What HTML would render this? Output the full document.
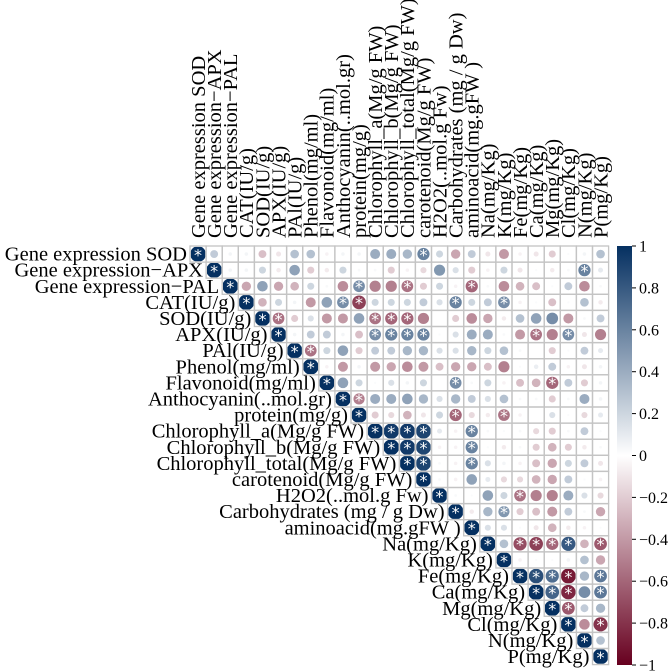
<!DOCTYPE html>
<html><head><meta charset="utf-8"><style>
html,body{margin:0;padding:0;background:#fff;}
svg{display:block;font-family:"Liberation Serif",serif;}
</style></head><body>
<svg id="chart" width="669" height="672" viewBox="0 0 669 672" xmlns="http://www.w3.org/2000/svg">
<defs>
<linearGradient id="cbgrad" x1="0" y1="1" x2="0" y2="0">
<stop offset="0" stop-color="#67001F"/><stop offset="0.5" stop-color="#FFFFFF"/><stop offset="1" stop-color="#053061"/>
</linearGradient>
</defs>
<g id="cells"></g>
<g id="rowlabels"></g>
<g id="collabels"></g>
<g id="colorbar"></g>
</svg>
<script>
const labels = ["Gene expression SOD","Gene expression\u2212APX","Gene expression\u2212PAL","CAT(IU/g)","SOD(IU/g)","APX(IU/g)","PAl(IU/g)","Phenol(mg/ml)","Flavonoid(mg/ml)","Anthocyanin(..mol.gr)","protein(mg/g)","Chlorophyll_a(Mg/g FW)","Chlorophyll_b(Mg/g FW)","Chlorophyll_total(Mg/g FW)","carotenoid(Mg/g FW)","H2O2(..mol.g Fw)","Carbohydrates (mg / g Dw)","aminoacid(mg.gFW )","Na(mg/Kg)","K(mg/Kg)","Fe(mg/Kg)","Ca(mg/Kg)","Mg(mg/Kg)","Cl(mg/Kg)","N(mg/Kg)","P(mg/Kg)"];
// upper-triangle correlations: row i holds columns i+1..25
const corrRows = [
[.25,.05,.05,-.25,-.1,.3,.3,-.05,.05,.05,.4,.4,.35,.6,.2,-.35,.25,-.1,-.4,-.05,-.1,-.2,.02,.05,.3],
[.05,.05,.2,-.08,.45,-.2,-.08,.2,.03,.03,-.2,-.05,-.15,.5,.15,-.2,-.05,.2,-.1,.02,-.08,.03,.6,.1],
[-.35,.45,-.35,-.3,.2,.03,-.45,.55,-.5,-.5,-.55,-.2,.2,-.05,-.6,.03,-.45,-.3,-.25,.02,.25,-.45,.03],
[-.3,.2,.05,-.4,.45,.55,-.75,.2,.2,.2,.25,.15,.6,.2,.25,.55,-.05,.02,-.25,.02,.3,-.08],
[-.55,-.2,.15,-.4,-.4,.45,-.55,-.6,-.6,-.5,0,-.2,-.45,-.35,-.08,.3,.45,.55,-.4,.03,.25],
[.05,.25,.25,.05,-.25,.55,.6,.6,.6,.02,.15,.4,.4,.03,-.4,-.55,-.5,.55,-.1,-.5],
[-.55,.2,.45,-.2,.25,.25,.35,.35,.15,.15,.35,.2,.3,.03,0,-.2,.02,.25,.1],
[-.05,-.4,.05,-.4,-.35,-.45,-.4,-.25,-.35,-.35,-.25,-.5,.02,.08,.25,-.05,-.1,.05],
[.45,.2,.02,.15,.05,.2,0,.55,.03,.2,-.05,-.25,-.3,-.6,.25,-.2,.05],
[-.5,.4,.4,.45,.35,.15,.35,.25,.15,.3,.03,.03,-.2,.03,.4,.05],
[-.2,-.15,-.3,-.1,.2,-.6,-.15,-.08,-.55,-.05,0,.15,.02,-.15,.1],
[.95,.95,.9,.1,-.05,.6,.03,.02,.03,-.15,-.2,.03,.25,.02],
[.95,.9,-.05,-.05,.6,.02,-.08,.03,-.2,-.3,-.2,-.08,.03],
[.9,.03,-.05,.6,.15,.05,-.05,-.25,-.35,.2,.25,-.1],
[.03,-.05,.45,.1,-.15,-.15,-.3,-.35,.25,.02,-.05],
[.03,.02,.45,.2,-.55,-.5,-.5,.4,.15,-.15],
[-.08,.35,.5,-.2,-.25,-.4,.25,.03,-.35],
[.15,.15,.02,-.1,-.3,-.08,-.05,.02],
[.3,-.7,-.75,-.6,.8,-.3,-.65],
[-.05,.02,.02,.05,.3,-.35],
[.85,.7,-.9,.35,.65],
[.75,-.85,.55,.65],
[-.65,.25,.35],
[-.45,-.8],
[.3]
];
const sigPairs = ["0-14","1-24","2-10","2-13","2-17","3-9","3-10","3-16","3-19","4-5","4-11","4-12","4-13","5-11","5-12","5-13","5-14","5-21","5-23","6-7","8-16","8-22","9-10","10-16","10-19","11-12","11-13","11-14","11-17","12-13","12-14","12-17","13-14","13-17","15-20","16-19","18-20","18-21","18-22","18-23","18-25","20-21","20-22","20-23","20-25","21-22","21-23","21-25","22-23","23-25"];
const cbTicks = [1,0.8,0.6,0.4,0.2,0,-0.2,-0.4,-0.6,-0.8,-1];

const NS="http://www.w3.org/2000/svg";
const cell=16.1, gx=190, gy=246;
const n=labels.length;
function xPos(j){return gx+cell*j+cell/2;}
function yPos(i){return gy+cell*i+cell/2;}
function colorFor(r){
  const t=Math.min(1,Math.abs(r));
  const end = r>=0 ? [5,48,97] : [103,0,31];
  const c=end.map(e=>Math.round(255+(e-255)*t));
  return "rgb("+c.join(",")+")";
}
function mk(tag,attrs,parent){const e=document.createElementNS(NS,tag);for(const k in attrs)e.setAttribute(k,attrs[k]);parent.appendChild(e);return e;}

const cellsG=document.getElementById('cells');
const defs=document.querySelector('defs');
const sigSet=new Set(sigPairs);
function value(i,j){return i===j?1:corrRows[i][j-i-1];}
for(let i=0;i<n;i++){
  for(let j=i;j<n;j++){
    const r=value(i,j);
    const cx=xPos(j), cy=yPos(i);
    const g=mk('g',{},cellsG);
    
    
    mk('rect',{x:cx-cell/2,y:cy-cell/2,width:cell,height:cell,fill:'#fff'},g);
    const cid='c'+i+'_'+j;
    const cp=mk('clipPath',{id:cid},defs);
    mk('rect',{x:cx-7.2,y:cy-7.2,width:14.4,height:14.4},cp);
    const rad=7.9*Math.sqrt(Math.abs(r));
    const c=mk('circle',{cx:cx,cy:cy,r:rad,fill:colorFor(r),'clip-path':'url(#'+cid+')'},g);
    
    
    if(i===j||sigSet.has(i+'-'+j)){
      const s=mk('text',{x:cx,y:cy+6.3,'text-anchor':'middle','font-size':'16',fill:'#fff','font-family':'DejaVu Sans, sans-serif'},g);
      s.textContent='*';
      
      
    }
  }
}
// grid lines
const gridG=mk('g',{stroke:'#c4c4c4','stroke-width':'1.3',fill:'none'},cellsG);


for(let i=0;i<n;i++){
  for(let j=i;j<n;j++){
    mk('rect',{x:gx+cell*j,y:gy+cell*i,width:cell,height:cell},gridG);
  }
}
// row labels
const rl=document.getElementById('rowlabels');
labels.forEach((lab,i)=>{
  const t=mk('text',{x:gx+cell*i-3,y:yPos(i)+6.5,'text-anchor':'end','font-size':'20.5',fill:'#000'},rl);
  t.textContent=lab;
  
  
});
// column labels
const cl=document.getElementById('collabels');
labels.forEach((lab,j)=>{
  const x=xPos(j)+6.8, y=238;
  const t=mk('text',{x:x,y:y,transform:'rotate(-90 '+x+' '+y+')','font-size':'20.5',fill:'#000'},cl);
  t.textContent=lab;
  
  
});
// colorbar
const cb=document.getElementById('colorbar');
const cbTop=246, cbBot=665, cbX=617, cbW=15;
function cbY(v){return cbTop+(1-v)/2*(cbBot-cbTop);}
const bar=mk('rect',{x:cbX,y:cbTop,width:cbW,height:cbBot-cbTop,fill:'url(#cbgrad)'},cb);


cbTicks.forEach(v=>{
  const y=cbY(v);
  const tk=mk('line',{x1:cbX+cbW,x2:cbX+cbW+4,y1:y,y2:y,stroke:'#000','stroke-width':'1'},cb);
  
  
  const t=mk('text',{x:cbX+cbW+7,y:y+5.5,'font-size':'16',fill:'#000'},cb);
  t.textContent=(v<0?'\u2212':'')+String(Math.abs(v));
  
  
});
</script>
</body></html>
